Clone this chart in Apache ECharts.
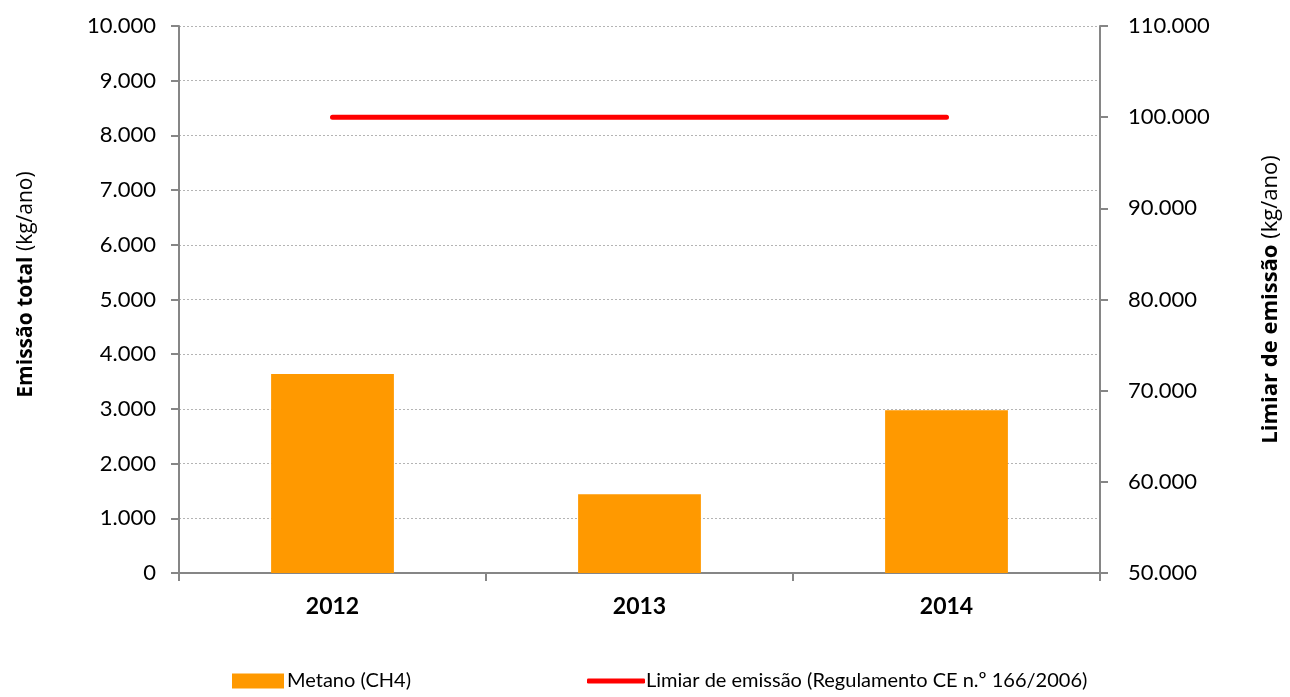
<!DOCTYPE html>
<html>
<head>
<meta charset="utf-8">
<script src="https://cdn.jsdelivr.net/npm/echarts@6/dist/echarts.min.js"></script>
<style>
    html, body {margin: 0; padding: 0; background: #fff;}
    #chart {width: 1290px; height: 697px;}
</style>
</head>
<body>
<div id="chart"></div>
<script>
    // dados
    let years = ['2012', '2013', '2014'];
    let metano = [3640, 1440, 2975];
    let limiar = [100000, 100000, 100000];
    let leftTicks = {min: 0, max: 10000, interval: 1000};
    let rightTicks = {min: 50000, max: 110000, interval: 10000};

    function fmt(v) {
        return String(v).replace(/\B(?=(\d{3})+(?!\d))/g, '.');
    }

    let axisGray = '#868686';
    let tickFont = {fontFamily: 'Lato', fontSize: 22, color: '#000'};

    let chart = echarts.init(document.getElementById('chart'));

    let option = {
        animation: false,
        grid: {
            left: 179,
            right: 190,
            top: 26,
            bottom: 124
        },
        legend: [{
            data: ['Metano (CH4)'],
            left: 227,
            top: 666,
            icon: 'rect',
            itemWidth: 52,
            itemHeight: 15,
            textStyle: {fontFamily: 'Lato', fontSize: 20, color: '#000', padding: [0, 0, 0, -2]}
        }, {
            data: ['Limiar de emissão (Regulamento CE n.º 166/2006)'],
            left: 582,
            top: 666,
            icon: 'roundRect',
            itemWidth: 58,
            itemHeight: 5,
            textStyle: {fontFamily: 'Lato', fontSize: 20, color: '#000', padding: [0, 0, 0, -4]}
        }],
        xAxis: {
            type: 'category',
            data: years,
            axisLine: {lineStyle: {color: axisGray, width: 2}},
            axisTick: {show: true, length: 8, lineStyle: {color: axisGray, width: 2}},
            axisLabel: {
                margin: 22,
                fontFamily: 'Lato',
                fontSize: 23,
                fontWeight: 'bold',
                color: '#000'
            }
        },
        yAxis: [{
            type: 'value',
            min: leftTicks.min,
            max: leftTicks.max,
            interval: leftTicks.interval,
            name: '{b|Emissão total}{n| (kg/ano)}',
            nameLocation: 'middle',
            nameGap: 142,
            nameTextStyle: {
                padding: [0, 0, 0, 30],
                rich: {
                    b: {fontFamily: 'Open Sans', fontSize: 21, fontWeight: 'bold', color: '#000'},
                    n: {fontFamily: 'Open Sans', fontSize: 21, color: '#000'}
                }
            },
            axisLine: {show: true, lineStyle: {color: axisGray, width: 2}},
            axisTick: {show: true, length: 8, lineStyle: {color: axisGray, width: 2}},
            axisLabel: Object.assign({margin: 23, formatter: fmt}, tickFont),
            splitLine: {lineStyle: {color: '#b4b4b4', type: [2, 2], width: 1}}
        }, {
            type: 'value',
            position: 'right',
            min: rightTicks.min,
            max: rightTicks.max,
            interval: rightTicks.interval,
            name: '{b|Limiar de emissão}{n| (kg/ano)}',
            nameLocation: 'middle',
            nameGap: 160,
            nameRotate: 90,
            nameTextStyle: {
                rich: {
                    b: {fontFamily: 'Open Sans', fontSize: 22, fontWeight: 'bold', color: '#000'},
                    n: {fontFamily: 'Open Sans', fontSize: 22, color: '#000'}
                }
            },
            axisLine: {show: true, lineStyle: {color: axisGray, width: 2}},
            axisTick: {show: true, length: 8, lineStyle: {color: axisGray, width: 2}},
            axisLabel: Object.assign({margin: 28, formatter: fmt}, tickFont),
            splitLine: {show: false}
        }],
        series: [{
            name: 'Metano (CH4)',
            type: 'bar',
            yAxisIndex: 0,
            barWidth: '40%',
            data: metano,
            itemStyle: {color: '#FF9900'}
        }, {
            name: 'Limiar de emissão (Regulamento CE n.º 166/2006)',
            type: 'line',
            yAxisIndex: 1,
            data: limiar,
            symbol: 'none',
            lineStyle: {color: '#FF0000', width: 5, cap: 'round'},
            itemStyle: {color: '#FF0000'}
        }]
    };

    chart.setOption(option);
</script>
</body>
</html>
